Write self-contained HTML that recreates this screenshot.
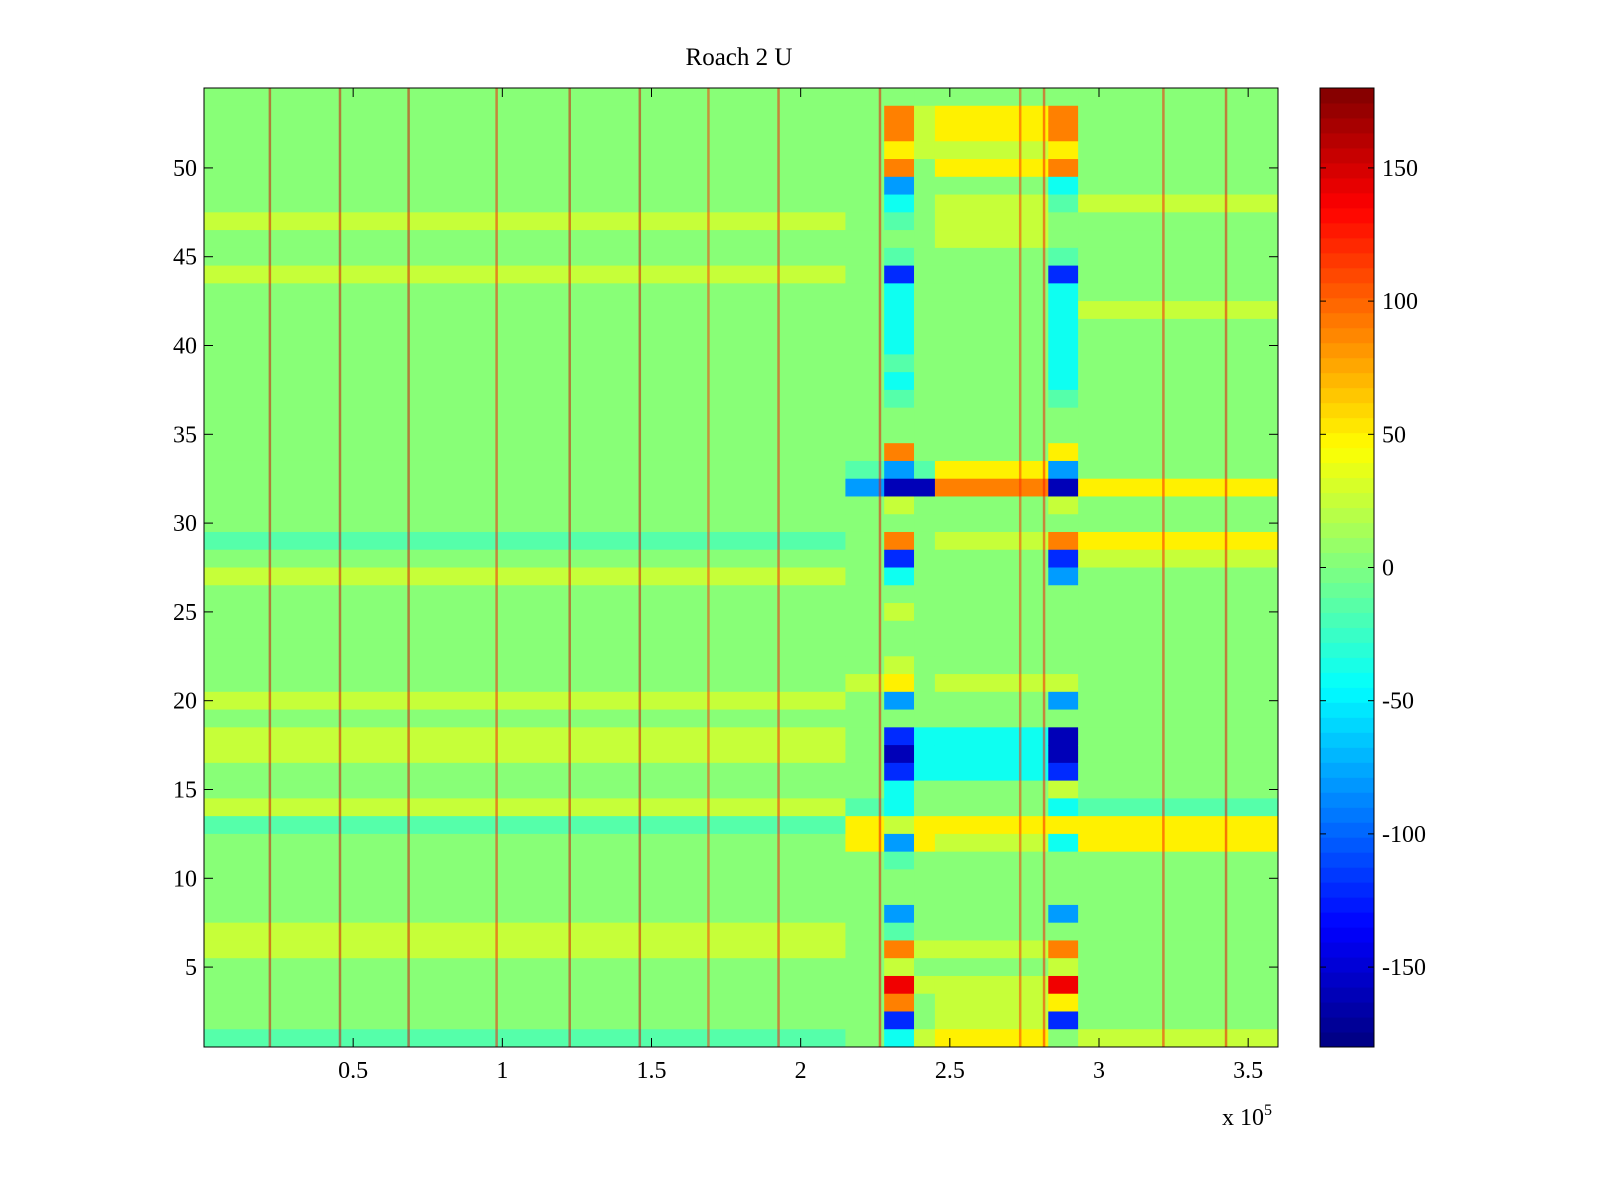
<!DOCTYPE html>
<html><head><meta charset="utf-8">
<style>
html,body{margin:0;padding:0;background:#fff;}
svg{display:block;font-family:"Liberation Serif",serif;}
</style></head>
<body>
<svg id="chart" width="1600" height="1200" viewBox="0 0 1600 1200" xmlns="http://www.w3.org/2000/svg">
<rect width="1600" height="1200" fill="#fff"/>
<text x="739" y="65" font-size="25" text-anchor="middle">Roach 2 U</text>
<g id="cells"></g>
<g id="lines"></g>
<g id="axes"></g>
<g id="cbar"></g>
</svg>
<script>
// Level codes 0..9 -> values
const levelValues = [-160,-120,-80,-40,-15,3,25,50,90,140];
// x region boundaries (units of 1e5)
const regionEdges = [0, 2.15, 2.28, 2.38, 2.45, 2.83, 2.93, 3.6];
// Each string: rows 54 (top) down to 1 (bottom)
const regionL  = "5555555655"+"6555555555"+"5555545655"+"5555656655"+"6455555665"+"5554";
const regionP  = "5555555555"+"5555555555"+"5425555555"+"5556555555"+"4775555555"+"5555";
const regionA  = "5887823454"+"1333343455"+"8206581356"+"5567251013"+"3624552486"+"9813";
const regionM1 = "5666555555"+"5555555555"+"5405555555"+"5555553335"+"5775555565"+"6556";
const regionM  = "5776756665"+"5555555555"+"5785565555"+"5556553335"+"5765555565"+"6667";
const regionB  = "5887834554"+"1333333455"+"7206581255"+"5556250016"+"3735552586"+"9715";
const regionR  = "5555556555"+"5565555555"+"5575576555"+"5555555555"+"4775555555"+"5556";
const regions = [regionL, regionP, regionA, regionM1, regionM, regionB, regionR];
// vertical stripe positions (1e5) and values
const stripeX = [0.22,0.455,0.685,0.98,1.225,1.46,1.69,1.925,2.265,2.735,2.815,3.215,3.425];
const stripeV = [150,150,150,130,150,150,120,130,140,120,130,130,140];
const xTicks = [0.5,1,1.5,2,2.5,3,3.5];
const xTickLabels = ["0.5","1","1.5","2","2.5","3","3.5"];
const yTicks = [5,10,15,20,25,30,35,40,45,50];
const cTicks = [-150,-100,-50,0,50,100,150];

const X0=204, X1=1278, Y0=88, Y1=1047;
const xMax=3.6, nRows=54;
const xs = v => X0 + v/xMax*(X1-X0);
const ys = v => Y1 - (v-0.5)/nRows*(Y1-Y0);
const NS="http://www.w3.org/2000/svg";
function jet(v){
  let t=(v+180)/360; t=Math.max(0,Math.min(1,t));
  const f=x=>Math.max(0,Math.min(1,x));
  const r=f(Math.min(4*t-1.5,-4*t+4.5)), g=f(Math.min(4*t-0.5,-4*t+3.5)), b=f(Math.min(4*t+0.5,-4*t+2.5));
  return `rgb(${Math.round(r*255)},${Math.round(g*255)},${Math.round(b*255)})`;
}
function mk(tag,attrs,parent){const e=document.createElementNS(NS,tag);for(const k in attrs)e.setAttribute(k,attrs[k]);parent.appendChild(e);return e;}

const cells=document.getElementById('cells');
regions.forEach((str,ri)=>{
  const xa=xs(regionEdges[ri]), xb=xs(regionEdges[ri+1]);
  for(let i=0;i<nRows;i++){
    const row=nRows-i;
    const v=levelValues[+str[i]];
    const r=mk('rect',{x:xa,y:ys(row+0.5),width:xb-xa+0.5,height:ys(row-0.5)-ys(row+0.5)+0.5,fill:jet(v)},cells);
    
    
  }
});
const lines=document.getElementById('lines');
stripeX.forEach((x,i)=>{
  const l=mk('rect',{x:xs(x)-1,y:Y0,width:2.5,height:Y1-Y0,fill:jet(stripeV[i]),opacity:0.5},lines);
  
  
});
const ax=document.getElementById('axes');
mk('rect',{x:X0,y:Y0,width:X1-X0,height:Y1-Y0,fill:'none',stroke:'#000','stroke-width':1},ax);
xTicks.forEach((t,i)=>{
  const x=xs(t);
  mk('line',{x1:x,y1:Y1,x2:x,y2:Y1-9,stroke:'#000'},ax);
  mk('line',{x1:x,y1:Y0,x2:x,y2:Y0+9,stroke:'#000'},ax);
  const tx=mk('text',{x:x,y:1078,'font-size':24,'text-anchor':'middle'},ax);
  tx.textContent=xTickLabels[i];
  
  
});
yTicks.forEach(t=>{
  const y=ys(t);
  mk('line',{x1:X0,y1:y,x2:X0+9,y2:y,stroke:'#000'},ax);
  mk('line',{x1:X1,y1:y,x2:X1-9,y2:y,stroke:'#000'},ax);
  const tx=mk('text',{x:197,y:y+8,'font-size':24,'text-anchor':'end'},ax);
  tx.textContent=t;
  
  
});
const ex=mk('text',{x:1222,y:1125,'font-size':24},ax);
ex.innerHTML='x 10<tspan dy="-10" font-size="16">5</tspan>';



const cb=document.getElementById('cbar');
const CX0=1320,CX1=1374;
const cy=v=>Y1-(v+180)/360*(Y1-Y0);
for(let i=0;i<64;i++){
  const v0=-180+i*360/64, v1=v0+360/64;
  const r=mk('rect',{x:CX0,y:cy(v1),width:CX1-CX0,height:cy(v0)-cy(v1)+0.5,fill:jet((v0+v1)/2)},cb);
  
  
}
mk('rect',{x:CX0,y:Y0,width:CX1-CX0,height:Y1-Y0,fill:'none',stroke:'#000'},cb);
cTicks.forEach(t=>{
  const y=cy(t);
  mk('line',{x1:CX0,y1:y,x2:CX0+6,y2:y,stroke:'#000'},cb);
  mk('line',{x1:CX1,y1:y,x2:CX1-6,y2:y,stroke:'#000'},cb);
  const tx=mk('text',{x:1382,y:y+8,'font-size':24},cb);
  tx.textContent=t;
  
  
});
</script>
</body></html>
